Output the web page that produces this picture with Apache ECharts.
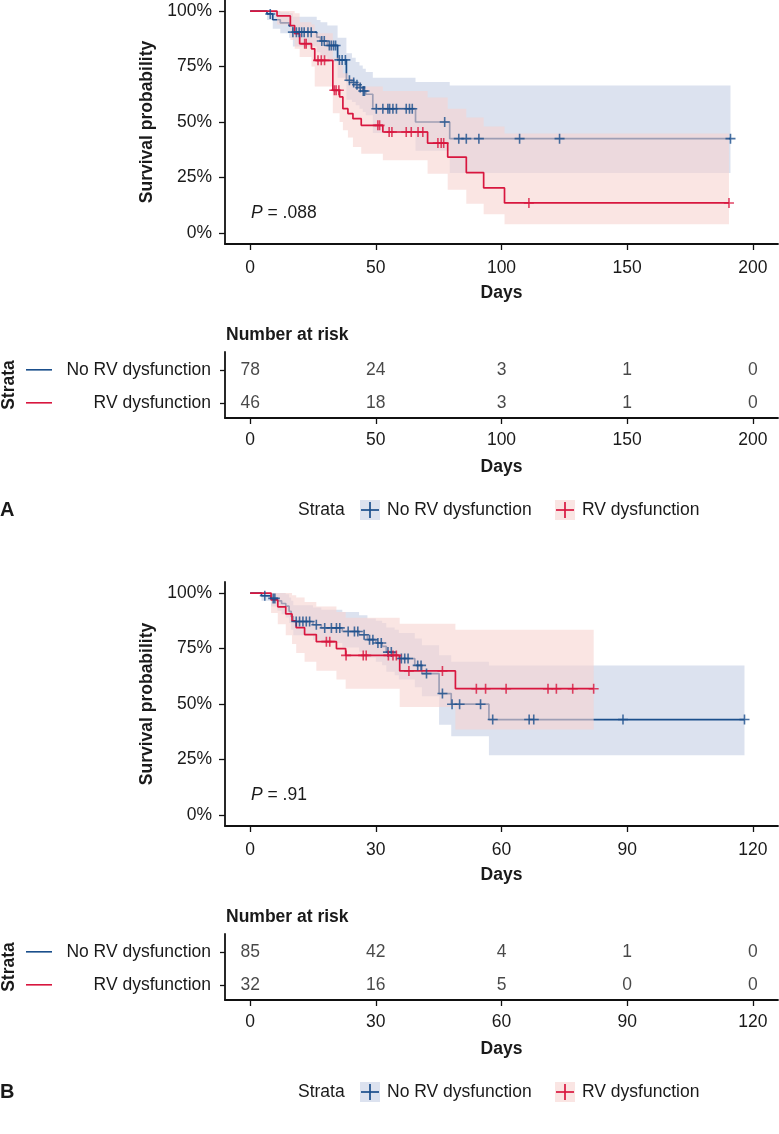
<!DOCTYPE html>
<html><head><meta charset="utf-8">
<script src="https://cdn.jsdelivr.net/npm/echarts@6/dist/echarts.min.js"></script>
<style>html,body{margin:0;padding:0;background:#fff}#c{width:779px;height:1134px}</style>
</head><body><div id="c"></div>
<script>
// ---------- DATA ----------
const strata = ['No RV dysfunction', 'RV dysfunction'];
const yTicks = [0, 0.25, 0.5, 0.75, 1];
const aTicks = [0, 50, 100, 150, 200];
const bTicks = [0, 30, 60, 90, 120];

// Panel A – No RV dysfunction
const aNoTime = [0, 6.7, 9, 12, 15.5, 17, 26.5, 28, 30.7, 34.8, 38.3, 40.5, 42, 43.5, 44.8, 46, 48.8, 65.8, 79.4];
const aNoSurv = [1, .987, .961, .947, .933, .905, .883, .865, .845, .78, .688, .678, .668, .655, .64, .625, .56, .50, .425];
const aNoLow  = [1, .96, .92, .90, .88, .84, .815, .795, .77, .70, .60, .59, .575, .56, .545, .53, .45, .37, .27];
const aNoUp   = [1, 1, 1, .995, .99, .975, .96, .95, .935, .88, .81, .79, .77, .755, .74, .725, .70, .68, .665];
const aNoEnd  = 191.1;
const aNoCens = [8, 17, 18.4, 19.5, 20.5, 21.5, 23, 24.3, 28.5, 29.5, 31.5, 32.3, 33.2, 34, 35.5, 36.6, 37.9, 39.5, 41.2, 42.5, 43.8, 45, 45.5, 50.2, 52.8, 54.8, 55.5, 56.8, 58.2, 62.1, 63.4, 64.5, 77.4, 83, 86, 91, 107.2, 123.1, 191.1];
// Panel A – RV dysfunction
const aRvTime = [0, 10.7, 16, 17.7, 19.7, 24.4, 25.7, 32.9, 35.6, 36.9, 38.9, 40.9, 44.2, 52.8, 70.6, 78.6, 86, 92.9, 101.2];
const aRvSurv = [1, .978, .935, .898, .853, .83, .778, .643, .613, .56, .538, .515, .485, .455, .405, .342, .272, .203, .135];
const aRvLow  = [1, .94, .87, .83, .793, .75, .66, .54, .50, .463, .43, .387, .357, .327, .267, .195, .132, .084, .039];
const aRvUp   = [1, 1, 1, .99, .95, .94, .90, .79, .77, .72, .70, .68, .66, .64, .61, .56, .52, .48, .448];
const aRvEnd  = 190.5;
const aRvCens = [21.7, 22.3, 27, 28.3, 29.6, 33.5, 34.2, 35.3, 50.8, 51.5, 55.3, 56.4, 62.1, 64.1, 66.8, 68.7, 74.7, 76, 77, 110.9, 190.5];
// Panel A – number at risk
const aRiskNo = [78, 24, 3, 1, 0];
const aRiskRv = [46, 18, 3, 1, 0];

// Panel B – No RV dysfunction
const bNoTime = [0, 2.7, 5, 6.5, 7.5, 8.5, 9.3, 9.8, 10.3, 15, 17, 22, 26, 28, 30, 31.5, 32.5, 34.5, 35.5, 39.3, 41, 45.1, 48, 57];
const bNoSurv = [1, .988, .976, .965, .953, .941, .918, .894, .872, .857, .843, .827, .812, .79, .775, .76, .734, .72, .705, .674, .637, .547, .499, .43];
const bNoLow  = [1, .965, .94, .92, .905, .89, .865, .835, .81, .79, .775, .755, .735, .71, .69, .675, .645, .63, .61, .575, .535, .407, .355, .269];
const bNoUp   = [1, 1, 1, 1, 1, .995, .98, .965, .945, .935, .925, .915, .90, .885, .875, .865, .845, .835, .82, .795, .765, .72, .69, .674];
const bNoEnd  = 118;
const bNoCens = [3.5, 5.5, 5.9, 11, 11.8, 12.6, 13.4, 14.2, 15.8, 17.8, 19.4, 20.6, 21.4, 23.4, 24.9, 25.7, 27.2, 28.5, 29.3, 30.5, 31.3, 32.9, 33.7, 36.1, 36.9, 37.7, 40, 40.8, 42.1, 45.9, 48.2, 50, 55, 57.9, 66.6, 67.7, 89, 118];
// Panel B – RV dysfunction
const bRvTime = [0, 5, 6.6, 8.5, 10, 11, 13, 15.8, 20.6, 22.8, 35.7, 49];
const bRvSurv = [1, .969, .938, .906, .875, .844, .813, .781, .75, .719, .649, .569];
const bRvLow  = [1, .91, .86, .81, .77, .73, .69, .65, .61, .569, .486, .385];
const bRvUp   = [1, 1, 1, 1, .99, .98, .96, .94, .915, .889, .862, .835];
const bRvEnd  = 82;
const bRvCens = [18.2, 19, 22.9, 27, 27.7, 33, 34.1, 34.9, 37.9, 45.9, 54, 56.2, 61.1, 71.1, 73.1, 77, 82];
// Panel B – number at risk
const bRiskNo = [85, 42, 4, 1, 0];
const bRiskRv = [32, 16, 5, 0, 0];

const pA = '.088';
const pB = '.91';

// ---------- STYLE ----------
const BLUE = '#1b4f8c', RED = '#d8173f';
const BLUE_BAND = 'rgba(196,206,228,0.6)', RED_BAND = 'rgba(247,211,209,0.6)';
const FONT = "'Liberation Sans', Arial, Helvetica, sans-serif";
const TXT = '#1a1a1a', AX = '#111';
const FS = 17.5;
const PLUS = 'path://M4.2,0h1.6v10h-1.6z M0,4.2h10v1.6h-10z';

function survAt(times, surv, t) {
  let s = surv[0];
  for (let i = 0; i < times.length; i++) if (times[i] <= t) s = surv[i];
  return s;
}
function stepData(times, surv, end) {
  const d = times.map((t, i) => [t, surv[i]]);
  d.push([end, surv[surv.length - 1]]);
  return d;
}
function band(gi, times, lo, hi, end, color, z) {
  return {
    type: 'custom', xAxisIndex: gi, yAxisIndex: gi, z: z, silent: true,
    data: [[times[0], hi[0]]],
    renderItem: function (params, api) {
      const up = [], dn = [];
      for (let i = 0; i < times.length; i++) {
        const t0 = times[i], t1 = i + 1 < times.length ? times[i + 1] : end;
        up.push(api.coord([t0, hi[i]]), api.coord([t1, hi[i]]));
        dn.push(api.coord([t0, lo[i]]), api.coord([t1, lo[i]]));
      }
      return { type: 'polygon', shape: { points: up.concat(dn.reverse()) }, style: { fill: color } };
    }
  };
}
function curve(gi, name, times, surv, end, color, z) {
  return { type: 'line', name: name, xAxisIndex: gi, yAxisIndex: gi, step: 'end', z: z, silent: true,
    data: stepData(times, surv, end), showSymbol: false, symbol: 'none',
    lineStyle: { color: color, width: 1.7 } };
}
function marks(gi, times, surv, cens, color) {
  return { type: 'scatter', xAxisIndex: gi, yAxisIndex: gi, z: 6, silent: true,
    data: cens.map(t => [t, survAt(times, surv, t)]),
    symbol: PLUS, symbolSize: 10, itemStyle: { color: color } };
}
function riskSeries(gi, ticks, no, rv) {
  const d = [];
  ticks.forEach((t, i) => { d.push([t, 1, no[i]]); d.push([t, 2, rv[i]]); });
  return { type: 'scatter', xAxisIndex: gi, yAxisIndex: gi, silent: true, symbolSize: 1,
    itemStyle: { color: 'rgba(0,0,0,0)' }, data: d,
    label: { show: true, position: 'inside', formatter: p => String(p.value[2]),
      fontSize: FS, color: TXT, fontFamily: FONT } };
}
const axLine = { show: true, onZero: false, lineStyle: { color: AX, width: 1.8 } };
function xAx(gi, min, max, ticks, margin) {
  return { gridIndex: gi, type: 'value', min: min, max: max,
    axisLine: axLine, splitLine: { show: false },
    axisTick: { show: true, length: 6, customValues: ticks, lineStyle: { color: AX, width: 1.3 } },
    axisLabel: { customValues: ticks, fontSize: FS, color: TXT, fontFamily: FONT, margin: margin },
    name: 'Days', nameLocation: 'middle', nameGap: 40,
    nameTextStyle: { fontWeight: 'bold', fontSize: FS, color: TXT, fontFamily: FONT } };
}
function yPlot(gi) {
  return { gridIndex: gi, type: 'value', min: -0.05, max: 1.05,
    axisLine: axLine, splitLine: { show: false },
    axisTick: { show: true, length: 6, customValues: yTicks, lineStyle: { color: AX, width: 1.3 } },
    axisLabel: { customValues: yTicks, fontSize: FS, color: TXT, fontFamily: FONT, margin: 13,
      formatter: v => Math.round(v * 100) + '%' },
    name: 'Survival probability', nameLocation: 'middle', nameGap: 64, nameRotate: 90,
    nameTextStyle: { fontWeight: 'bold', fontSize: FS, color: TXT, fontFamily: FONT } };
}
function yTable(gi) {
  return { gridIndex: gi, type: 'value', min: 0.46, max: 2.46, inverse: true,
    axisLine: axLine, splitLine: { show: false },
    axisTick: { show: true, length: 5, customValues: [1, 2], lineStyle: { color: AX, width: 1.3 } },
    axisLabel: { customValues: [1, 2], margin: 14,
      formatter: v => (v === 1 ? '{lb|}{t|' + strata[0] + '}' : '{lr|}{t|' + strata[1] + '}'),
      rich: {
        lb: { width: 26, height: 1.6, backgroundColor: BLUE },
        lr: { width: 26, height: 1.6, backgroundColor: RED },
        t: { width: 159, align: 'right', fontSize: FS, color: TXT, fontFamily: FONT }
      } },
    name: 'Strata', nameLocation: 'middle', nameGap: 207, nameRotate: 90, nameMoveOverlap: false,
    nameTextStyle: { fontWeight: 'bold', fontSize: FS, color: TXT, fontFamily: FONT } };
}
function txt(x, y, text, extra) {
  return Object.assign({ type: 'text', x: x, y: y, silent: true,
    style: Object.assign({ text: text, fontSize: FS, fontFamily: FONT, fill: TXT, verticalAlign: 'middle' }, extra || {}) });
}
function legendG(y) {
  return [
    txt(298, y, 'Strata'),
    { type: 'rect', shape: { x: 360, y: y - 10, width: 20, height: 20 }, style: { fill: BLUE_BAND } },
    { type: 'line', shape: { x1: 361, y1: y, x2: 379, y2: y }, style: { stroke: BLUE, lineWidth: 1.7 } },
    { type: 'line', shape: { x1: 370, y1: y - 8, x2: 370, y2: y + 8 }, style: { stroke: BLUE, lineWidth: 1.7 } },
    txt(387, y, strata[0]),
    { type: 'rect', shape: { x: 555, y: y - 10, width: 20, height: 20 }, style: { fill: RED_BAND } },
    { type: 'line', shape: { x1: 556, y1: y, x2: 574, y2: y }, style: { stroke: RED, lineWidth: 1.7 } },
    { type: 'line', shape: { x1: 565, y1: y - 8, x2: 565, y2: y + 8 }, style: { stroke: RED, lineWidth: 1.7 } },
    txt(582, y, strata[1])
  ];
}
const pRich = { i: { fontStyle: 'italic', fontSize: FS, fontFamily: FONT, fill: TXT } };

const chart = echarts.init(document.getElementById('c'), null, { renderer: 'canvas' });
chart.setOption({
  animation: false,
  backgroundColor: '#fff',
  grid: [
    { left: 225, top: 0, width: 553, height: 244, outerBoundsMode: 'none', containLabel: false },
    { left: 225, top: 352, width: 553, height: 66, outerBoundsMode: 'none', containLabel: false },
    { left: 225, top: 582, width: 553, height: 244, outerBoundsMode: 'none', containLabel: false },
    { left: 225, top: 934, width: 553, height: 66, outerBoundsMode: 'none', containLabel: false }
  ],
  xAxis: [xAx(0, -10, 210, aTicks, 15), xAx(1, -10, 210, aTicks, 13), xAx(2, -6, 126, bTicks, 15), xAx(3, -6, 126, bTicks, 13)],
  yAxis: [yPlot(0), yTable(1), yPlot(2), yTable(3)],
  series: [
    band(0, aNoTime, aNoLow, aNoUp, aNoEnd, BLUE_BAND, 1),
    curve(0, strata[0], aNoTime, aNoSurv, aNoEnd, BLUE, 2),
    band(0, aRvTime, aRvLow, aRvUp, aRvEnd, RED_BAND, 3),
    curve(0, strata[1], aRvTime, aRvSurv, aRvEnd, RED, 4),
    marks(0, aNoTime, aNoSurv, aNoCens, BLUE),
    marks(0, aRvTime, aRvSurv, aRvCens, RED),
    riskSeries(1, aTicks, aRiskNo, aRiskRv),
    band(2, bNoTime, bNoLow, bNoUp, bNoEnd, BLUE_BAND, 1),
    curve(2, strata[0], bNoTime, bNoSurv, bNoEnd, BLUE, 2),
    band(2, bRvTime, bRvLow, bRvUp, bRvEnd, RED_BAND, 3),
    curve(2, strata[1], bRvTime, bRvSurv, bRvEnd, RED, 4),
    marks(2, bNoTime, bNoSurv, bNoCens, BLUE),
    marks(2, bRvTime, bRvSurv, bRvCens, RED),
    riskSeries(3, bTicks, bRiskNo, bRiskRv)
  ],
  graphic: [].concat(
    [txt(251, 213, '{i|P} = ' + pA, { rich: pRich }),
     txt(251, 795, '{i|P} = ' + pB, { rich: pRich }),
     txt(226, 335, 'Number at risk', { fontWeight: 'bold' }),
     txt(226, 917, 'Number at risk', { fontWeight: 'bold' }),
     txt(0, 510, 'A', { fontWeight: 'bold', fontSize: 20 }),
     txt(0, 1092, 'B', { fontWeight: 'bold', fontSize: 20 })],
    legendG(510), legendG(1092)
  )
});
</script></body></html>
